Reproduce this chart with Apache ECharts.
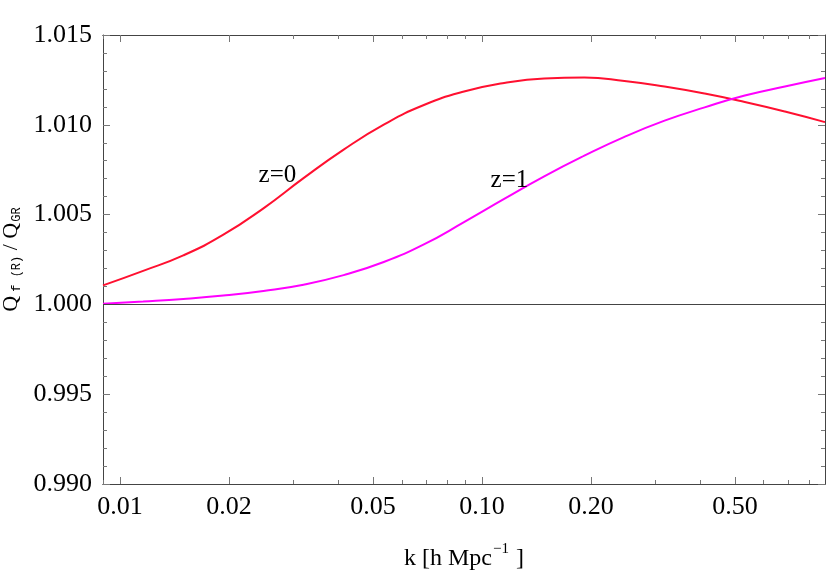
<!DOCTYPE html>
<html>
<head>
<meta charset="utf-8">
<script src="https://cdn.jsdelivr.net/npm/echarts@6/dist/echarts.min.js"></script>
<style>
  html, body { margin: 0; padding: 0; background: #fff; }
  #main { width: 830px; height: 574px; }
</style>
</head>
<body>
<div id="main"></div>
<script>
// k values (h/Mpc)
var kVals = [0.00897, 0.01158, 0.01495, 0.01929, 0.02489, 0.03212, 0.04146, 0.05351, 0.06907, 0.08915,
             0.1151, 0.1485, 0.1917, 0.2474, 0.3193, 0.4121, 0.5319, 0.6865, 0.886];
// Q_f(R)/Q_GR, z=0 (red)
var z0 = [1.00106, 1.00187, 1.00273, 1.00388, 1.00535, 1.00703, 1.00862, 1.01001, 1.01110, 1.01185,
          1.01233, 1.01258, 1.01263, 1.01244, 1.01213, 1.01174, 1.01127, 1.01074, 1.01015];
// Q_f(R)/Q_GR, z=1 (magenta)
var z1 = [1.00004, 1.00016, 1.00030, 1.00049, 1.00075, 1.00110, 1.00163, 1.00236, 1.00334, 1.00458,
          1.00587, 1.00713, 1.00828, 1.00933, 1.01023, 1.01097, 1.01163, 1.01213, 1.01260];

// tick labels
var xMajor = [0.01, 0.02, 0.05, 0.1, 0.2, 0.5];
var xMajorText = ['0.01', '0.02', '0.05', '0.10', '0.20', '0.50'];
var xMinor = [0.009, 0.03, 0.04, 0.06, 0.07, 0.08, 0.09, 0.3, 0.4, 0.6, 0.7, 0.8];
var kMin = 0.00897, kMax = 0.886;

// curve labels [k, value, text]
var curveLabels = [[0.0272, 1.00719, 'z=0'], [0.119, 1.00692, 'z=1']];

var lg = function (v) { return Math.log10(v); };
var pairs = function (ks, vs) { return ks.map(function (k, i) { return [lg(k), vs[i]]; }); };

var serif = 'Liberation Serif';
var frame = '#444';
var tickCol = '#777';

var chart = echarts.init(document.getElementById('main'));

function xAx(pos, ticks, len, labels) {
    return {
        type: 'value', position: pos, min: lg(kMin), max: lg(kMax),
        axisLine: { show: true, onZero: false, lineStyle: { color: frame, width: 1 } },
        axisTick: { show: true, inside: true, length: len, customValues: ticks.map(lg), lineStyle: { color: tickCol } },
        axisLabel: labels ? {
            show: true, customValues: xMajor.map(lg), margin: 10,
            fontFamily: serif, fontSize: 26, color: '#000',
            formatter: function (v) {
                var best = 0;
                xMajor.forEach(function (m, i) { if (Math.abs(lg(m) - v) < Math.abs(lg(xMajor[best]) - v)) best = i; });
                return xMajorText[best];
            }
        } : { show: false },
        splitLine: { show: false }
    };
}

function yAx(pos, labels) {
    return {
        type: 'value', position: pos, min: 0.990, max: 1.015, interval: 0.005,
        axisLine: { show: true, onZero: false, lineStyle: { color: frame, width: 1 } },
        axisTick: { show: true, inside: true, length: 7, lineStyle: { color: tickCol } },
        minorTick: { show: true, splitNumber: 5, length: 4, lineStyle: { color: tickCol } },
        axisLabel: labels ? { show: true, margin: 11, fontFamily: serif, fontSize: 26, color: '#000',
            formatter: function (v) { return v.toFixed(3); } } : { show: false },
        splitLine: { show: false }
    };
}

var xMain = xAx('bottom', xMajor, 7, true);
xMain.name = '{a|k [h Mpc}{s|−1}{a| ]}';
xMain.nameLocation = 'middle';
xMain.nameGap = 58;
xMain.nameTextStyle = {
    rich: {
        a: { fontFamily: serif, fontSize: 24, color: '#000' },
        s: { fontFamily: serif, fontSize: 15, color: '#000', padding: [0, 1, 18, 1] }
    }
};

var yMain = yAx('left', true);
yMain.name = '{q|Q}{s|f (R)}{q| / Q}{g|GR}';
yMain.nameLocation = 'middle';
yMain.nameGap = 80;
yMain.nameRotate = 90;
yMain.nameTextStyle = {
    rich: {
        q: { fontFamily: serif, fontSize: 22, color: '#000' },
        s: { fontFamily: 'Liberation Mono', fontSize: 12, color: '#000', padding: [10, 0, 0, 4] },
        g: { fontFamily: 'Liberation Mono', fontSize: 12, color: '#000', padding: [10, 0, 0, 1] }
    }
};

var option = {
    animation: false,
    backgroundColor: '#fff',
    grid: { left: 103, right: 5, top: 35, bottom: 90, containLabel: false, outerBoundsMode: 'none' },
    xAxis: [
        xMain,
        xAx('bottom', xMinor, 4, false),
        xAx('top', xMajor, 7, false),
        xAx('top', xMinor, 4, false)
    ],
    yAxis: [yMain, yAx('right', false)],
    series: [
        {
            name: 'z=0', type: 'line', smooth: true, showSymbol: false,
            data: pairs(kVals, z0),
            lineStyle: { color: '#ff1030', width: 2 },
            markPoint: {
                symbol: 'circle', symbolSize: 1, itemStyle: { color: 'rgba(0,0,0,0)' },
                label: { show: true, position: 'inside', fontFamily: serif, fontSize: 25, color: '#000',
                    formatter: function (p) { return p.name; } },
                data: [{ name: curveLabels[0][2], coord: [lg(curveLabels[0][0]), curveLabels[0][1]] }]
            },
            markLine: {
                silent: true, symbol: ['none', 'none'], label: { show: false },
                lineStyle: { color: '#444', width: 1, type: 'solid' },
                data: [{ yAxis: 1.0 }]
            }
        },
        {
            name: 'z=1', type: 'line', smooth: true, showSymbol: false,
            data: pairs(kVals, z1),
            lineStyle: { color: '#ff00ff', width: 2 },
            markPoint: {
                symbol: 'circle', symbolSize: 1, itemStyle: { color: 'rgba(0,0,0,0)' },
                label: { show: true, position: 'inside', fontFamily: serif, fontSize: 25, color: '#000',
                    formatter: function (p) { return p.name; } },
                data: [{ name: curveLabels[1][2], coord: [lg(curveLabels[1][0]), curveLabels[1][1]] }]
            }
        }
    ]
};

chart.setOption(option);
</script>
</body>
</html>
